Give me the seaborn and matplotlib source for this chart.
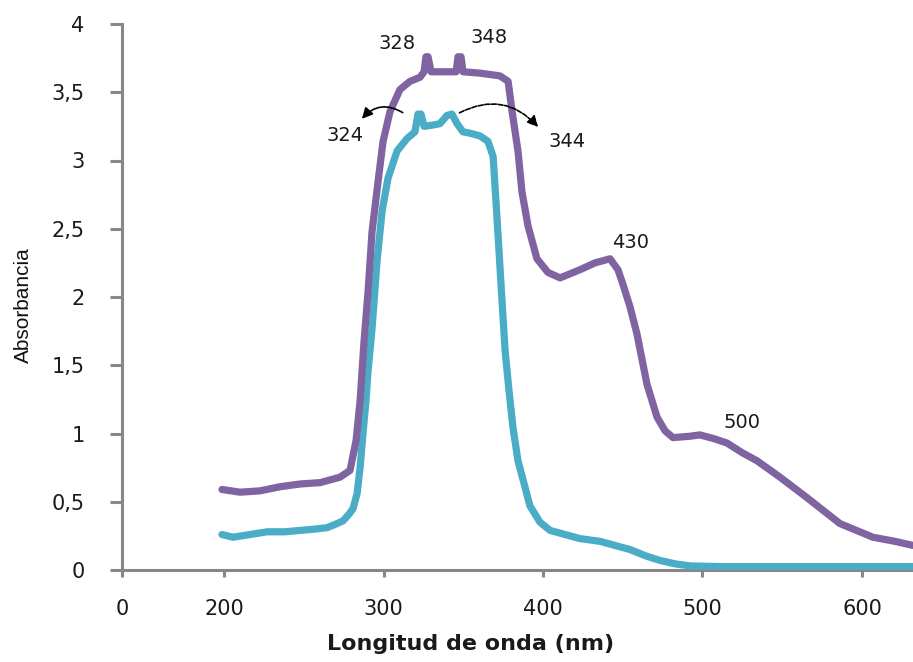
import matplotlib
matplotlib.use("Agg")
import matplotlib.pyplot as plt
from matplotlib import font_manager
import seaborn as sns
import pandas as pd

# ---------------- data ----------------
wl_purple = [198.7, 210.0, 222.6, 235.1, 247.6, 260.2, 272.7, 279.0, 282.8, 285.3,
             287.8, 290.3, 292.8, 296.6, 299.7, 304.1, 310.3, 316.6, 322.9, 325.4,
             326.6, 327.9, 329.8, 338.6, 345.5, 346.7, 348.6, 349.8, 360.5, 373.0,
             378.1, 380.6, 384.3, 386.8, 390.6, 396.2, 403.1, 410.7, 423.2, 432.6,
             442.0, 447.0, 450.2, 454.5, 458.9, 465.2, 471.5, 476.5, 481.5, 492.2,
             498.4, 507.8, 515.4, 524.8, 534.2, 548.6, 565.5, 586.2, 606.9, 620.7, 632.0]
abs_purple = [0.59, 0.57, 0.58, 0.61, 0.63, 0.64, 0.68, 0.73, 0.95, 1.24,
              1.68, 2.04, 2.48, 2.85, 3.14, 3.36, 3.52, 3.58, 3.61, 3.65,
              3.76, 3.76, 3.65, 3.65, 3.65, 3.76, 3.76, 3.65, 3.64, 3.62,
              3.58, 3.36, 3.07, 2.77, 2.52, 2.28, 2.18, 2.14, 2.20, 2.25,
              2.28, 2.20, 2.09, 1.93, 1.73, 1.36, 1.12, 1.02, 0.97, 0.98,
              0.99, 0.96, 0.93, 0.86, 0.80, 0.68, 0.53, 0.34, 0.24, 0.21, 0.18]

wl_cyan = [198.7, 205.6, 216.3, 227.0, 238.2, 247.6, 257.1, 264.6, 270.8, 274.6,
           278.4, 280.9, 283.4, 285.3, 287.1, 289.0, 290.3, 292.8, 295.9, 299.1,
           302.8, 308.5, 314.7, 319.7, 321.6, 323.5, 325.4, 331.0, 335.4, 339.8,
           342.9, 346.1, 349.8, 354.2, 360.5, 365.5, 368.7, 370.5, 372.4, 374.3,
           376.2, 378.7, 381.2, 384.3, 387.5, 391.8, 398.1, 404.4, 413.8, 423.2,
           435.7, 445.1, 454.5, 465.2, 473.4, 482.8, 492.2, 511.0, 632.0]
abs_cyan = [0.26, 0.24, 0.26, 0.28, 0.28, 0.29, 0.30, 0.31, 0.34, 0.36,
            0.41, 0.45, 0.56, 0.75, 1.00, 1.24, 1.46, 1.77, 2.26, 2.63,
            2.87, 3.07, 3.16, 3.21, 3.34, 3.34, 3.25, 3.26, 3.27, 3.33,
            3.34, 3.27, 3.21, 3.20, 3.18, 3.14, 3.03, 2.70, 2.34, 1.97,
            1.61, 1.31, 1.04, 0.80, 0.66, 0.47, 0.35, 0.29, 0.26, 0.23,
            0.21, 0.18, 0.15, 0.10, 0.07, 0.045, 0.03, 0.025, 0.025]

x_tick_pos = [136, 200, 300, 400, 500, 600]
x_tick_labels = ["0", "200", "300", "400", "500", "600"]
y_tick_pos = [0, 0.5, 1, 1.5, 2, 2.5, 3, 3.5, 4]
y_tick_labels = ["0", "0,5", "1", "1,5", "2", "2,5", "3", "3,5", "4"]

peak_labels = ["328", "348", "324", "344", "430", "500"]
peak_x = [308.5, 366.1, 275.9, 415.0, 455.2, 524.8]
peak_y = [3.86, 3.90, 3.18, 3.14, 2.40, 1.08]

# ---------------- plot ----------------
sns.set_theme(style="white")
plt.rcParams['font.family'] = ['DejaVu Sans']

installed = {f.name for f in font_manager.fontManager.ttflist}
if "Liberation Sans Narrow" in installed:
    ylab_font = dict(family=["Liberation Sans Narrow"], fontsize=18)
else:
    ylab_font = dict(family=["Liberation Sans"], fontsize=15)

fig = plt.figure(figsize=(9.13, 6.62), dpi=100)
ax = fig.add_axes([122 / 913, 92 / 662, 791 / 913, 546 / 662])

df_p = pd.DataFrame({"wl": wl_purple, "A": abs_purple})
df_c = pd.DataFrame({"wl": wl_cyan, "A": abs_cyan})
sns.lineplot(data=df_c, x="wl", y="A", color="#4BACC6", linewidth=5.2, ax=ax,
             estimator=None, sort=False, zorder=3)
sns.lineplot(data=df_p, x="wl", y="A", color="#8064A2", linewidth=5.2, ax=ax,
             estimator=None, sort=False, zorder=3)

ax.set_xlim(136, 632)
ax.set_ylim(0, 4)
ax.set_xticks(x_tick_pos)
ax.set_xticklabels(x_tick_labels)
ax.set_yticks(y_tick_pos)
ax.set_yticklabels(y_tick_labels)

for s in ["top", "right"]:
    ax.spines[s].set_visible(False)
for s in ["left", "bottom"]:
    ax.spines[s].set_color("#888888")
    ax.spines[s].set_linewidth(2.2)

ax.tick_params(axis="x", direction="out", length=5, width=2.2, color="#888888",
               pad=16, labelsize=15, labelcolor="#1a1a1a", bottom=True)
ax.tick_params(axis="y", direction="out", length=9, width=2.2, color="#888888",
               pad=18, labelsize=15, labelcolor="#1a1a1a", left=True)

ax.set_xlabel("Longitud de onda (nm)", fontsize=16, fontweight="bold", color="#1a1a1a")
ax.xaxis.set_label_coords(0.441, -0.117)
ax.set_ylabel("Absorbancia", color="#111111", **ylab_font)
ax.yaxis.set_label_coords(-0.112, 0.485)

for t, xx, yy in zip(peak_labels, peak_x, peak_y):
    ax.text(xx, yy, t, ha="center", va="center", fontsize=14, color="#1a1a1a")

# curved arrows
ax.annotate("", xy=(285.3, 3.29), xytext=(313.5, 3.34),
            arrowprops=dict(arrowstyle="-|>", color="black", lw=1.2,
                            connectionstyle="arc3,rad=0.45", mutation_scale=16))
ax.annotate("", xy=(398.1, 3.23), xytext=(346.1, 3.34),
            arrowprops=dict(arrowstyle="-|>", color="black", lw=1.2, linestyle=(0, (3, 1)),
                            connectionstyle="arc3,rad=-0.4", mutation_scale=16))

fig.savefig("out.png", dpi=100)
